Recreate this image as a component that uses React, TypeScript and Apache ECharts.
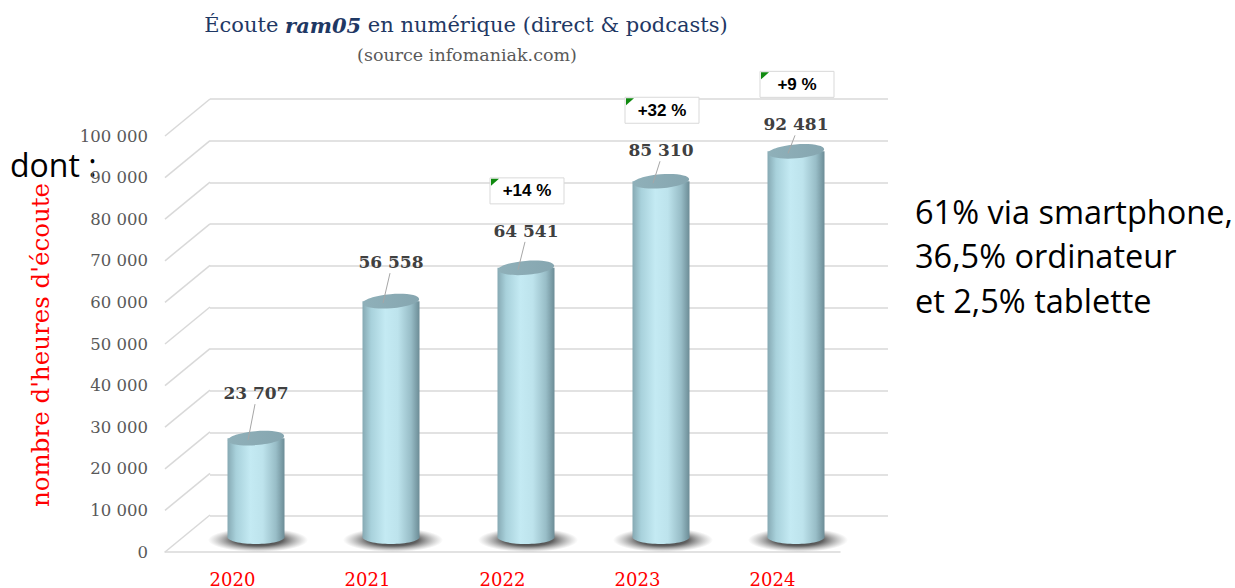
import React, { useEffect, useRef } from "react";
import * as echarts from "echarts";

const years = ["2020", "2021", "2022", "2023", "2024"];
const listeningHours = [23707, 56558, 64541, 85310, 92481];
const growthLabels = ["", "", "+14 %", "+32 %", "+9 %"];
const yTicks = [0, 10000, 20000, 30000, 40000, 50000, 60000, 70000, 80000, 90000, 100000];
const rightNotes = ["61% via smartphone,", "36,5% ordinateur", "et 2,5% tablette"];

// styling: how far each value label sits above its cylinder top (px)
const labelLift = [45, 39, 37, 31, 27];

const fmt = (v: number) => String(v).replace(/\B(?=(\d{3})+(?!\d))/g, " ");

export default function App() {
  const ref = useRef<HTMLDivElement>(null);

  useEffect(() => {
    if (!ref.current) return;
    const chart = echarts.init(ref.current, undefined, { renderer: "svg" });
    const grid = "#d9d9d9";

    const bodyGradient = () =>
      new echarts.graphic.LinearGradient(0, 0, 1, 0, [
        { offset: 0, color: "#86a9b3" },
        { offset: 0.15, color: "#a8d1db" },
        { offset: 0.4, color: "#c4eaf3" },
        { offset: 0.62, color: "#bde3ec" },
        { offset: 0.85, color: "#98bdc7" },
        { offset: 1, color: "#6c8c96" },
      ]);

    const option: any = {
      animation: false,
      backgroundColor: "#ffffff",
      grid: [
        { left: 165, top: 136, width: 675, height: 417 },
        { left: 210, top: 99, width: 678, height: 417 },
        { left: 188.5, top: 120, width: 675, height: 417 },
      ],
      xAxis: [
        {
          gridIndex: 0,
          type: "category",
          data: years,
          axisLine: { show: true, lineStyle: { color: grid, width: 1.5 } },
          axisTick: { show: false },
          axisLabel: { color: "#ff0000", fontFamily: "DejaVu Serif", fontSize: 18, margin: 18 },
        },
        { gridIndex: 1, type: "category", data: years, show: false },
        { gridIndex: 2, type: "category", data: years, show: false },
      ],
      yAxis: [
        {
          gridIndex: 0,
          type: "value",
          min: 0,
          max: 100000,
          interval: 10000,
          axisLine: { show: false },
          axisTick: { show: false },
          splitLine: { show: false },
          axisLabel: {
            color: "#595959",
            fontFamily: "DejaVu Serif",
            fontSize: 16.5,
            margin: 17,
            formatter: (v: number) => fmt(v),
          },
        },
        {
          gridIndex: 1,
          type: "value",
          min: 0,
          max: 100000,
          interval: 10000,
          axisLine: { show: false },
          axisTick: { show: false },
          axisLabel: { show: false },
          splitLine: { show: true, lineStyle: { color: grid, width: 1.5 } },
        },
        {
          gridIndex: 2,
          type: "value",
          min: 0,
          max: 100000,
          show: false,
          splitLine: { show: false },
        },
      ],
      series: [
        {
          type: "custom",
          xAxisIndex: 0,
          yAxisIndex: 0,
          silent: true,
          z: 1,
          data: yTicks.map((v) => [0, v]),
          renderItem: (params: any, api: any) => {
            const p = api.coord([0, api.value(1)]);
            const x0 = params.coordSys.x;
            return {
              type: "line",
              shape: { x1: x0, y1: p[1], x2: x0 + 45, y2: p[1] - 37 },
              style: { stroke: grid, lineWidth: 1.5 },
            };
          },
        },
        {
          type: "custom",
          xAxisIndex: 2,
          yAxisIndex: 2,
          silent: true,
          z: 5,
          data: listeningHours.map((v, i) => [i, v]),
          renderItem: (params: any, api: any) => {
            const i = api.value(0);
            const v = api.value(1);
            const top = api.coord([i, v]);
            const base = api.coord([i, 0]);
            const cx = top[0];
            const rx = 28.5;
            const ry = 7;
            const labelY = top[1] - labelLift[i];
            const children: any[] = [
              {
                type: "ellipse",
                shape: { cx: cx + 2, cy: base[1] + 3, rx: 50, ry: 12 },
                style: {
                  fill: new echarts.graphic.RadialGradient(0.5, 0.5, 0.5, [
                    { offset: 0, color: "rgba(20,20,20,0.95)" },
                    { offset: 0.5, color: "rgba(45,45,45,0.75)" },
                    { offset: 1, color: "rgba(110,110,110,0)" },
                  ]),
                },
              },
              {
                type: "ellipse",
                shape: { cx, cy: base[1], rx, ry },
                style: { fill: bodyGradient() },
              },
              {
                type: "rect",
                shape: { x: cx - rx, y: top[1], width: rx * 2, height: base[1] - top[1] },
                style: { fill: bodyGradient() },
              },
              {
                type: "ellipse",
                x: cx,
                y: top[1],
                rotation: 0.08,
                shape: { cx: 0, cy: 0, rx: rx - 0.3, ry },
                style: {
                  fill: new echarts.graphic.LinearGradient(0, 0, 1, 0, [
                    { offset: 0, color: "#8fb0b9" },
                    { offset: 1, color: "#86a6b0" },
                  ]),
                },
              },
              {
                type: "line",
                shape: { x1: cx - 1, y1: labelY + 11, x2: cx - 8, y2: top[1] + 2 },
                style: { stroke: "#a6a6a6", lineWidth: 1 },
              },
              {
                type: "text",
                x: cx,
                y: labelY,
                style: {
                  text: fmt(v),
                  fill: "#404040",
                  font: "bold 17px 'DejaVu Serif'",
                  align: "center",
                  verticalAlign: "middle",
                },
              },
            ];
            const g = growthLabels[i];
            if (g) {
              const bx = cx + 1 - 37;
              const by = labelY - 40 - 13;
              children.push(
                {
                  type: "rect",
                  shape: { x: bx, y: by, width: 74, height: 26 },
                  style: { fill: "#ffffff", stroke: "#d9d9d9", lineWidth: 1 },
                },
                {
                  type: "polygon",
                  shape: { points: [[bx + 1, by + 1], [bx + 9, by + 1], [bx + 1, by + 8]] },
                  style: { fill: "#108a10" },
                },
                {
                  type: "text",
                  x: bx + 37,
                  y: by + 13,
                  style: {
                    text: g,
                    fill: "#000000",
                    font: "bold 17px 'Liberation Sans'",
                    align: "center",
                    verticalAlign: "middle",
                  },
                }
              );
            }
            return { type: "group", children };
          },
        },
      ],
      graphic: [
        {
          type: "text",
          x: 466,
          y: 25,
          style: {
            text: "{a|Écoute }{b|ram05}{a| en numérique (direct & podcasts)}",
            align: "center",
            verticalAlign: "middle",
            fill: "#1f3864",
            rich: {
              a: { fontFamily: "DejaVu Serif", fontSize: 21, fill: "#1f3864" },
              b: {
                fontFamily: "DejaVu Serif",
                fontSize: 21,
                fontWeight: "bold",
                fontStyle: "italic",
                fill: "#1f3864",
              },
            },
          },
        },
        {
          type: "text",
          x: 467,
          y: 55,
          style: {
            text: "(source infomaniak.com)",
            fill: "#595959",
            font: "17.5px 'DejaVu Serif'",
            align: "center",
            verticalAlign: "middle",
          },
        },
        {
          type: "text",
          x: 40,
          y: 345,
          rotation: Math.PI / 2,
          style: {
            text: "nombre d'heures d'écoute",
            fill: "#ff0000",
            font: "24.5px 'DejaVu Serif'",
            align: "center",
            verticalAlign: "middle",
          },
        },
        {
          type: "text",
          x: 10,
          y: 164,
          style: {
            text: "dont :",
            fill: "#000000",
            font: "32px 'Open Sans'",
            align: "left",
            verticalAlign: "middle",
          },
        },
        ...rightNotes.map((t, k) => ({
          type: "text",
          x: 915,
          y: 211 + k * 44.5,
          style: {
            text: t,
            fill: "#000000",
            font: "32.5px 'Open Sans'",
            align: "left",
            verticalAlign: "middle",
          },
        })),
      ],
    };

    chart.setOption(option);
    return () => chart.dispose();
  }, []);

  return (
    <div
      ref={ref}
      style={{ position: "fixed", left: 0, top: 0, width: 1235, height: 588, background: "#fff" }}
    />
  );
}
